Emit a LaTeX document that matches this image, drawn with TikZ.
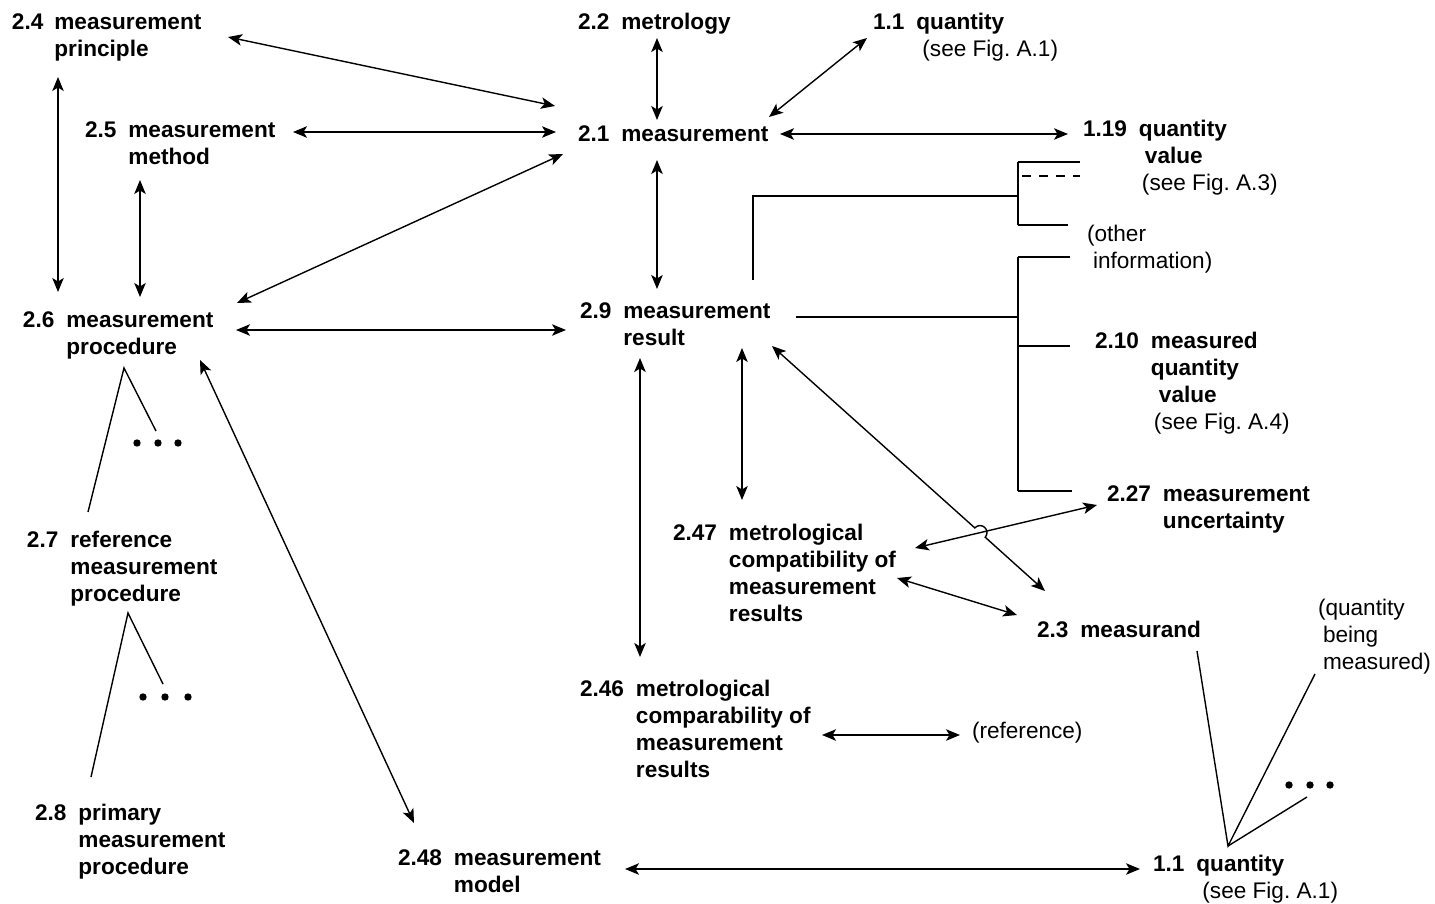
\documentclass[tikz,border=0pt]{standalone}
\usepackage{fontspec}
\setmainfont{Liberation Sans}
\usetikzlibrary{arrows.meta}
\frenchspacing
\begin{document}
\begin{tikzpicture}[x=1pt,y=-1pt,
  every node/.style={inner sep=0pt, outer sep=0pt, anchor=base west},
  term/.style={font=\fontsize{22.6}{27}\selectfont\bfseries},
  note/.style={font=\fontsize{22.6}{27}\selectfont},
  tip/.tip={Stealth[length=14pt,width=11.5pt,inset=3.5pt]},
  dbl/.style={tip-tip, line width=1.4pt},
  tree/.style={line width=1.7pt},
  leg/.style={line width=1.4pt},
  dot/.style={fill=black, draw=none}]
\useasboundingbox (0,0) rectangle (1435,904);

% ---------- terms ----------
\node[term] (n24) at (12,30) {\begin{tabular}[t]{@{}l@{\hspace{11pt}}l@{}}2.4 & measurement\\ & principle\end{tabular}};
\node[term] (n22) at (578,30) {\begin{tabular}[t]{@{}l@{\hspace{12pt}}l@{}}2.2 & metrology\end{tabular}};
\node[term] (n11) at (873,30) {\begin{tabular}[t]{@{}l@{\hspace{12pt}}l@{}}1.1 & quantity\\ & \hspace{6pt}\mdseries (see Fig. A.1)\end{tabular}};
\node[term] (n25) at (85,138) {\begin{tabular}[t]{@{}l@{\hspace{12pt}}l@{}}2.5 & measurement\\ & method\end{tabular}};
\node[term] (n21) at (578,142) {\begin{tabular}[t]{@{}l@{\hspace{12pt}}l@{}}2.1 & measurement\end{tabular}};
\node[term] (n119) at (1083,137) {\begin{tabular}[t]{@{}l@{\hspace{12pt}}l@{}}1.19 & quantity\\ & \hspace{6pt}value\\ & \hspace{3pt}\mdseries (see Fig. A.3)\end{tabular}};
\node[note] (noth) at (1087,242) {\begin{tabular}[t]{@{}l@{}}(other\\ \hspace{6pt}information)\end{tabular}};
\node[term] (n26) at (23,327) {\begin{tabular}[t]{@{}l@{\hspace{12pt}}l@{}}2.6 & measurement\\ & procedure\end{tabular}};
\node[term] (n29) at (580,318) {\begin{tabular}[t]{@{}l@{\hspace{12pt}}l@{}}2.9 & measurement\\ & result\end{tabular}};
\node[term] (n210) at (1095,348) {\begin{tabular}[t]{@{}l@{\hspace{12pt}}l@{}}2.10 & measured\\ & quantity\\ & \hspace{8pt}value\\ & \hspace{3pt}\mdseries (see Fig. A.4)\end{tabular}};
\node[term] (n227) at (1107,501) {\begin{tabular}[t]{@{}l@{\hspace{12pt}}l@{}}2.27 & measurement\\ & uncertainty\end{tabular}};
\node[term] (n247) at (673,540) {\begin{tabular}[t]{@{}l@{\hspace{12pt}}l@{}}2.47 & metrological\\ & compatibility of\\ & measurement\\ & results\end{tabular}};
\node[term] (n23) at (1037,637) {\begin{tabular}[t]{@{}l@{\hspace{12pt}}l@{}}2.3 & measurand\end{tabular}};
\node[note] (nqbm) at (1318,615) {\begin{tabular}[t]{@{}l@{}}(quantity\\ \hspace{5pt}being\\ \hspace{5pt}measured)\end{tabular}};
\node[term] (n27) at (27,547) {\begin{tabular}[t]{@{}l@{\hspace{12pt}}l@{}}2.7 & reference\\ & measurement\\ & procedure\end{tabular}};
\node[term] (n246) at (580,696) {\begin{tabular}[t]{@{}l@{\hspace{12pt}}l@{}}2.46 & metrological\\ & comparability of\\ & measurement\\ & results\end{tabular}};
\node[note] (nref) at (972,738) {(reference)};
\node[term] (n28) at (35,820) {\begin{tabular}[t]{@{}l@{\hspace{12pt}}l@{}}2.8 & primary\\ & measurement\\ & procedure\end{tabular}};
\node[term] (n248) at (398,865) {\begin{tabular}[t]{@{}l@{\hspace{12pt}}l@{}}2.48 & measurement\\ & model\end{tabular}};
\node[term] (n11b) at (1153,871) {\begin{tabular}[t]{@{}l@{\hspace{12pt}}l@{}}1.1 & quantity\\ & \hspace{6pt}\mdseries (see Fig. A.1)\end{tabular}};

% ---------- connector ends ----------
\coordinate (e24a) at (228,37);   \coordinate (e21a) at (555,106);
\coordinate (e22a) at (657,38);   \coordinate (e21b) at (657,120);
\coordinate (e11a) at (867,38);   \coordinate (e21c) at (769,117);
\coordinate (e25a) at (293,132);  \coordinate (e21d) at (556,132);
\coordinate (e21e) at (780,134);  \coordinate (e119a) at (1068,134);
\coordinate (e26a) at (237,303);  \coordinate (e21f) at (563,154);
\coordinate (e24b) at (58,77);    \coordinate (e26b) at (58,292);
\coordinate (e25b) at (140,180);  \coordinate (e26c) at (140,297);
\coordinate (e26d) at (236,330);  \coordinate (e29a) at (566,330);
\coordinate (e21g) at (657,160);  \coordinate (e29b) at (657,289);
\coordinate (e26e) at (200,360);  \coordinate (e248a) at (414,823);
\coordinate (e29c) at (640,358);  \coordinate (e246a) at (640,657);
\coordinate (e29d) at (742,348);  \coordinate (e247a) at (742,500);
\coordinate (e29e) at (772,346);  \coordinate (e23a) at (1045,591);
\coordinate (hopS) at (974.8,527.9);
\coordinate (e247b) at (915,548); \coordinate (e227a) at (1097,505);
\coordinate (e247c) at (897,578); \coordinate (e23b) at (1017,615);
\coordinate (e246b) at (822,735); \coordinate (erefa) at (960,735);
\coordinate (e248b) at (625,869); \coordinate (e11ba) at (1140,869);

% ---------- arrows ----------
\draw[dbl] (e24a) -- (e21a);
\draw[dbl] (e22a) -- (e21b);
\draw[dbl] (e11a) -- (e21c);
\draw[dbl] (e25a) -- (e21d);
\draw[dbl] (e21e) -- (e119a);
\draw[dbl] (e26a) -- (e21f);
\draw[dbl] (e24b) -- (e26b);
\draw[dbl] (e25b) -- (e26c);
\draw[dbl] (e26d) -- (e29a);
\draw[dbl] (e21g) -- (e29b);
\draw[dbl] (e26e) -- (e248a);
\draw[dbl] (e29c) -- (e246a);
\draw[dbl] (e29d) -- (e247a);
\draw[dbl] (e29e) -- (hopS) arc[start angle=221.9, end angle=401.9, radius=7] -- (e23a);
\draw[dbl] (e247b) -- (e227a);
\draw[dbl] (e247c) -- (e23b);
\draw[dbl] (e246b) -- (erefa);
\draw[dbl] (e248b) -- (e11ba);

% ---------- brackets from 2.9 ----------
\coordinate (b1) at (753,280);
\coordinate (b2) at (753,196);
\coordinate (b3) at (1018,196);
\draw[tree] (b1) -- (b2) -- (b3);
\draw[tree] (1018,162) -- (1018,225);
\draw[tree] (1018,162) -- (1080,162);
\draw[tree, dash pattern=on 9pt off 8pt, dash phase=-4pt] (1018,176) -- (1080,176);
\draw[tree] (1018,225) -- (1068,225);

\coordinate (c1) at (796,317);
\coordinate (c2) at (1018,317);
\draw[tree] (c1) -- (c2);
\draw[tree] (1018,257) -- (1018,491);
\draw[tree] (1018,257) -- (1070,257);
\draw[tree] (1018,346) -- (1070,346);
\draw[tree] (1018,491) -- (1072,491);

% ---------- generic/specific trees ----------
\coordinate (t26) at (124,368);
\draw[leg] (88,512) -- (t26) -- (156,431);
\foreach \x in {137,158,178} \fill[dot] (\x,443) circle (3.7);

\coordinate (t27) at (128,613);
\draw[leg] (91,777) -- (t27) -- (163,684);
\foreach \x in {143,165,188} \fill[dot] (\x,697) circle (3.7);

\coordinate (t11) at (1228,846);
\draw[leg] (1197,651) -- (t11) -- (1315,674);
\draw[leg] (t11) -- (1307,797);
\foreach \x in {1289,1310,1330} \fill[dot] (\x,785) circle (3.7);
\end{tikzpicture}
\end{document}
